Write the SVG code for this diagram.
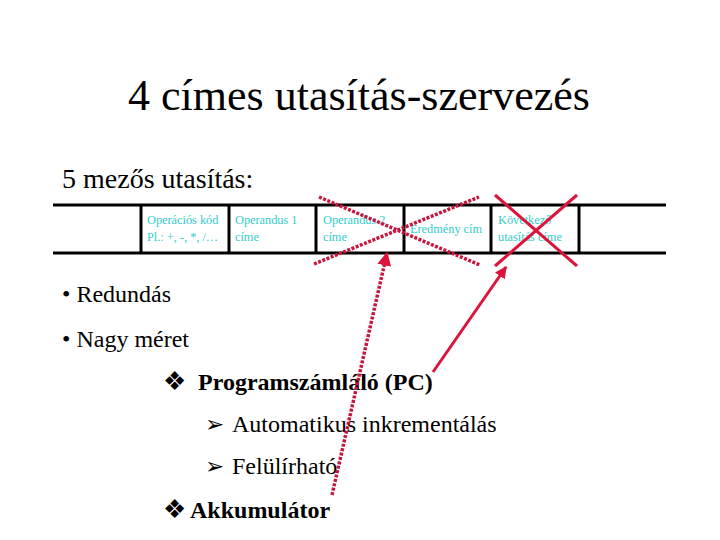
<svg xmlns="http://www.w3.org/2000/svg" width="720" height="540" viewBox="0 0 720 540">
<defs>
<style>
.t{font-family:"Liberation Serif","Times New Roman","DejaVu Serif",serif;fill:#000}
.b{font-weight:bold}
.c{font-family:"Liberation Serif","Times New Roman","DejaVu Serif",serif;fill:#33CCCC;font-size:12.3px}
.sym{font-family:"DejaVu Sans",sans-serif;fill:#000}
.tbl{stroke:#000;stroke-width:3;fill:none}
.dash{stroke:#C8143F;stroke-width:3.5;stroke-dasharray:3 1.5;fill:none}
.solid{stroke:#DC143C;stroke-width:3;fill:none}
</style>
<marker id="ah" viewBox="0 0 10 10" refX="9" refY="5" markerWidth="4" markerHeight="4" orient="auto" markerUnits="strokeWidth">
<path d="M0,0 L10,5 L0,10 Z" fill="#DC143C"/>
</marker>
</defs>
<rect width="720" height="540" fill="#fff"/>
<text class="t" x="359" y="110" font-size="44" text-anchor="middle">4 címes utasítás-szervezés</text>
<text class="t" x="62" y="188" font-size="28">5 mezős utasítás:</text>
<g id="table">
<line class="tbl" x1="53" y1="205" x2="666" y2="205"/>
<line class="tbl" x1="53" y1="253" x2="666" y2="253"/>
<line class="tbl" x1="141" y1="205" x2="141" y2="253"/>
<line class="tbl" x1="229" y1="205" x2="229" y2="253"/>
<line class="tbl" x1="316" y1="205" x2="316" y2="253"/>
<line class="tbl" x1="404" y1="205" x2="404" y2="253"/>
<line class="tbl" x1="491" y1="205" x2="491" y2="253"/>
<line class="tbl" x1="579" y1="205" x2="579" y2="253"/>
</g>
<g id="field-opcode"><text class="c" x="147" y="224">Operációs kód</text><text class="c" x="147" y="241">Pl.: +, -, *, /…</text></g>
<g id="field-op1"><text class="c" x="235" y="224">Operandus 1</text><text class="c" x="235" y="241">címe</text></g>
<g id="field-op2"><text class="c" x="323" y="224">Operandus 2</text><text class="c" x="323" y="241">címe</text></g>
<g id="field-result"><text class="c" x="410" y="233">Eredmény cím</text></g>
<g id="field-next"><text class="c" x="498" y="224">Következő</text><text class="c" x="498" y="241">utasítás címe</text></g>
<g id="bullets">
<text class="t" x="62" y="302" font-size="24">• Redundás</text>
<text class="t" x="62" y="347" font-size="24">• Nagy méret</text>
<text class="sym" x="163" y="390" font-size="26">❖</text>
<text class="t b" x="198" y="390" font-size="24">Programszámláló (PC)</text>
<text class="sym" x="205" y="432" font-size="23">➢</text>
<text class="t" x="232" y="432" font-size="24">Automatikus inkrementálás</text>
<text class="sym" x="205" y="474" font-size="23">➢</text>
<text class="t" x="232" y="474" font-size="24">Felülírható</text>
<text class="sym" x="163" y="518" font-size="26">❖</text>
<text class="t b" x="190" y="518" font-size="24">Akkumulátor</text>
</g>
<g id="connectors">
<line class="dash" x1="319" y1="197" x2="480" y2="265"/>
<line class="dash" x1="314" y1="264" x2="479" y2="197"/>
<line class="solid" x1="495" y1="195" x2="577" y2="266"/>
<line class="solid" x1="577" y1="195" x2="495" y2="266"/>
<line class="dash" x1="332" y1="495" x2="387" y2="253" marker-end="url(#ah)"/>
<line class="solid" x1="433" y1="372" x2="506" y2="267" marker-end="url(#ah)"/>
</g>
</svg>
